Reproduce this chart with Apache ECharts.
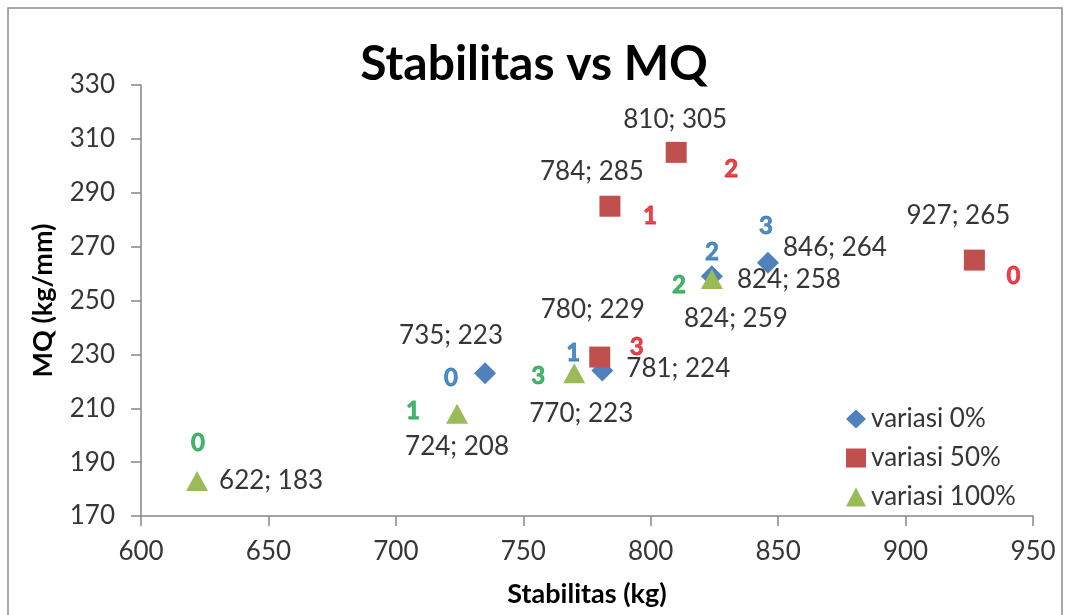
<!DOCTYPE html>
<html>
<head>
<meta charset="utf-8">
<title>Stabilitas vs MQ</title>
<script src="https://cdn.jsdelivr.net/npm/echarts@6/dist/echarts.min.js"></script>
<style>
  html, body { margin: 0; padding: 0; background: #ffffff; }
  #chart { width: 1068px; height: 615px; }
</style>
</head>
<body>
<div id="chart"></div>
<script>
// Stabilitas (kg) and MQ (kg/mm) per specimen, index 0..3 within each variation
const seriesNames = ['variasi 0%', 'variasi 50%', 'variasi 100%'];
const stabilitas0 = [735, 781, 824, 846];
const mq0 = [223, 224, 259, 264];
const stabilitas50 = [927, 784, 810, 780];
const mq50 = [265, 285, 305, 229];
const stabilitas100 = [622, 724, 824, 770];
const mq100 = [183, 208, 258, 223];

// Axis ranges
const xMin = 600, xMax = 950, xStep = 50;
const yMin = 170, yMax = 330, yStep = 20;

// Styling per variation
const markerColors = ['#4F81BD', '#C0504D', '#9BBB59'];
const indexColors = ['#2471B5', '#E3141E', '#19A24B'];
const symbols = ['diamond', 'rect', 'triangle'];
const symbolSizes = [[22, 22], [21, 21], [22, 20]];

// Label placement (pixel offsets from each marker centre)
const valueOffsets = [
  [[-34, -38], [76, -2], [24, 42], [67, -15]],
  [[-16, -44], [-18, -35], [-1, -33], [-7, -47]],
  [[74, 0], [0, 33], [77, 1], [7, 40]]
];
const indexOffsets = [
  [[-34, 5], [-29, -17], [0, -24], [-2, -37]],
  [[39, 16], [40, 10], [55, 17], [37, -10]],
  [[1, -38], [-44, -2], [-33, 6], [-36, 3]]
];

const groups = [
  [stabilitas0, mq0],
  [stabilitas50, mq50],
  [stabilitas100, mq100]
];

const FONT = 'Lato';
const markerSeries = [];
const indexSeries = [];

groups.forEach(function (g, gi) {
  const xs = g[0], ys = g[1];
  markerSeries.push({
    name: seriesNames[gi],
    type: 'scatter',
    symbol: symbols[gi],
    symbolSize: symbolSizes[gi],
    itemStyle: { color: markerColors[gi], opacity: 1 },
    z: 3 + gi,
    data: xs.map(function (x, i) {
      return {
        value: [x, ys[i]],
        label: { offset: valueOffsets[gi][i] }
      };
    }),
    label: {
      show: true,
      position: 'inside',
      color: '#363636',
      fontFamily: FONT,
      fontSize: 26,
      formatter: function (p) { return p.value[0] + '; ' + p.value[1]; }
    },
    emphasis: { disabled: true }
  });
  indexSeries.push({
    name: seriesNames[gi] + ' #',
    type: 'scatter',
    symbolSize: 1,
    itemStyle: { color: 'rgba(0,0,0,0)' },
    silent: true,
    z: 10,
    data: xs.map(function (x, i) {
      return {
        value: [x, ys[i]],
        label: { offset: indexOffsets[gi][i] }
      };
    }),
    label: {
      show: true,
      position: 'inside',
      color: indexColors[gi],
      textBorderColor: indexColors[gi],
      textBorderWidth: 0.8,
      fontFamily: FONT,
      fontWeight: 'bold',
      fontSize: 24,
      formatter: function (p) { return String(p.dataIndex); }
    },
    emphasis: { disabled: true }
  });
});

const chart = echarts.init(document.getElementById('chart'), null, { renderer: 'canvas' });

chart.setOption({
  animation: false,
  backgroundColor: '#ffffff',
  textStyle: { fontFamily: FONT },
  graphic: [{
    type: 'rect',
    shape: { x: 8, y: 8, width: 1054, height: 640 },
    style: { fill: 'none', stroke: '#8c8c8c', lineWidth: 1.5 },
    silent: true,
    z: -10
  }],
  title: {
    text: 'Stabilitas vs MQ',
    left: 'center',
    top: 36,
    textStyle: { fontFamily: FONT, fontWeight: 'bold', fontSize: 48, color: '#000000' }
  },
  grid: { left: 141, right: 35, top: 85, bottom: 99, containLabel: false, outerBoundsMode: 'none' },
  legend: {
    orient: 'vertical',
    left: 841,
    top: 401,
    data: seriesNames,
    itemWidth: 20,
    itemHeight: 19,
    itemGap: 13,
    textStyle: { fontFamily: FONT, fontSize: 26, color: '#363636', lineHeight: 25 },
    selectedMode: false
  },
  xAxis: {
    type: 'value',
    min: xMin, max: xMax, interval: xStep,
    name: 'Stabilitas (kg)',
    nameLocation: 'middle',
    nameGap: 65,
    nameTextStyle: { fontFamily: FONT, fontWeight: 'bold', fontSize: 27, color: '#000000' },
    axisLine: { show: true, lineStyle: { color: '#868686', width: 1.5 } },
    axisTick: { show: true, inside: false, length: 10, lineStyle: { color: '#868686', width: 1.5 } },
    axisLabel: { fontFamily: FONT, fontSize: 26, color: '#363636', margin: 23 },
    splitLine: { show: false }
  },
  yAxis: {
    type: 'value',
    min: yMin, max: yMax, interval: yStep,
    name: 'MQ (kg/mm)',
    nameLocation: 'middle',
    nameGap: 84,
    nameRotate: 90,
    nameTextStyle: { fontFamily: FONT, fontWeight: 'bold', fontSize: 27, color: '#000000' },
    axisLine: { show: true, lineStyle: { color: '#868686', width: 1.5 } },
    axisTick: { show: true, inside: false, length: 10, lineStyle: { color: '#868686', width: 1.5 } },
    axisLabel: { fontFamily: FONT, fontSize: 26, color: '#363636', margin: 26 },
    splitLine: { show: false }
  },
  series: markerSeries.concat(indexSeries)
});
</script>
</body>
</html>
